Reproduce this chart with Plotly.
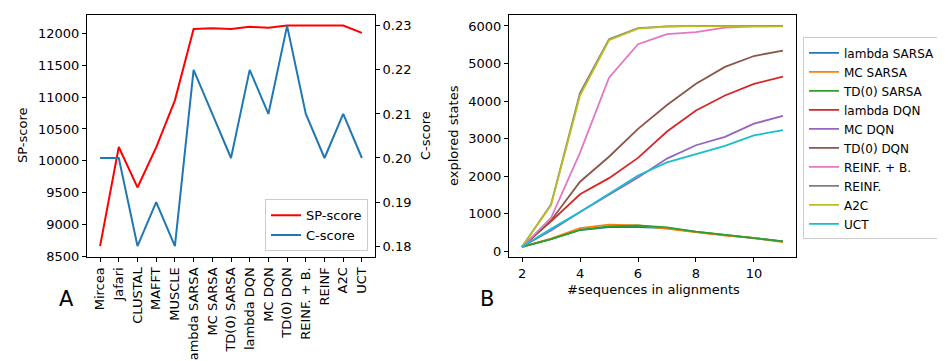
import plotly.graph_objects as go

# ---------------- Panel A data ----------------
methods = ["Mircea", "Jafari", "CLUSTAL", "MAFFT", "MUSCLE", "lambda SARSA", "MC SARSA",
           "TD(0) SARSA", "lambda DQN", "MC DQN", "TD(0) DQN", "REINF. + B.", "REINF", "A2C", "UCT"]
sp_score = [8660, 10216, 9581, 10210, 10950, 12072, 12082, 12072, 12105, 12090, 12125, 12125, 12115, 12125, 12010]
c_score = [0.20, 0.20, 0.18, 0.19, 0.18, 0.22, 0.21, 0.20, 0.22, 0.21, 0.23, 0.21, 0.20, 0.21, 0.20]
sp_ticks = [8500, 9000, 9500, 10000, 10500, 11000, 11500, 12000]
c_ticks = [0.18, 0.19, 0.20, 0.21, 0.22, 0.23]

# ---------------- Panel B data ----------------
n_sequences = [2, 3, 4, 5, 6, 7, 8, 9, 10, 11]
lambda_sarsa = [123, 330, 570, 650, 650, 620, 520, 430, 360, 270]
mc_sarsa = [123, 340, 623, 715, 693, 600, 500, 420, 360, 245]
td0_sarsa = [123, 325, 575, 665, 690, 640, 526, 439, 365, 270]
lambda_dqn = [123, 800, 1520, 1950, 2490, 3190, 3750, 4150, 4460, 4650]
mc_dqn = [123, 560, 1050, 1520, 1970, 2470, 2826, 3050, 3400, 3605]
td0_dqn = [123, 825, 1855, 2520, 3260, 3895, 4460, 4910, 5200, 5345]
reinf_b = [123, 890, 2630, 4625, 5515, 5780, 5838, 5955, 5990, 5995]
reinf = [123, 1250, 4220, 5650, 5940, 5990, 6000, 6000, 6000, 6000]
a2c = [123, 1230, 4150, 5620, 5930, 5985, 5995, 6000, 6000, 5990]
uct = [123, 600, 1050, 1530, 2020, 2370, 2580, 2810, 3090, 3225]
b_xticks = [2, 4, 6, 8, 10]
b_yticks = [0, 1000, 2000, 3000, 4000, 5000, 6000]

series_names = ["lambda SARSA", "MC SARSA", "TD(0) SARSA", "lambda DQN", "MC DQN",
                "TD(0) DQN", "REINF. + B.", "REINF.", "A2C", "UCT"]
series_values = [lambda_sarsa, mc_sarsa, td0_sarsa, lambda_dqn, mc_dqn,
                 td0_dqn, reinf_b, reinf, a2c, uct]
series_colors = ['#1f77b4', '#ff7f0e', '#2ca02c', '#d62728', '#9467bd',
                 '#8c564b', '#e377c2', '#7f7f7f', '#bcbd22', '#17becf']

W, H = 945, 361
FONT = "DejaVu Sans"

def px_x(p):
    return p / W

def px_y(p):
    return 1 - p / H

fig = go.Figure()

fig.add_trace(go.Scatter(x=methods, y=sp_score, mode="lines", name="SP-score",
                         line=dict(color="#ff0000", width=2), xaxis="x", yaxis="y",
                         legend="legend"))
fig.add_trace(go.Scatter(x=methods, y=c_score, mode="lines", name="C-score",
                         line=dict(color="#1f77b4", width=2), xaxis="x", yaxis="y2",
                         legend="legend"))

for name, vals, col in zip(series_names, series_values, series_colors):
    fig.add_trace(go.Scatter(x=n_sequences, y=vals, mode="lines", name=name,
                             line=dict(color=col, width=1.8), xaxis="x3", yaxis="y3",
                             legend="legend2"))

ydom = [px_y(254), px_y(7)]
axis_common = dict(showline=True, linecolor="black", linewidth=1, ticks="outside",
                   ticklen=4, tickcolor="black", showgrid=False, zeroline=False,
                   tickfont=dict(family=FONT, size=13, color="black"))

fig.update_layout(
    width=W, height=H,
    margin=dict(l=0, r=0, t=0, b=0),
    paper_bgcolor="white", plot_bgcolor="white",
    font=dict(family=FONT, size=13, color="black"),
    xaxis=dict(domain=[px_x(79), px_x(367)], anchor="y", type="category",
               range=[-0.7, 14.7], tickangle=-90, mirror=True, **axis_common),
    yaxis=dict(domain=ydom, anchor="x", range=[8487, 12293],
               tickvals=sp_ticks, ticktext=[str(v) for v in sp_ticks],
               mirror=True, **axis_common),
    yaxis2=dict(overlaying="y", anchor="x", side="right", range=[0.1775, 0.2325],
                tickvals=c_ticks, ticktext=["%.2f" % v for v in c_ticks],
                **axis_common),
    xaxis3=dict(domain=[px_x(501), px_x(788)], anchor="y3", range=[1.55, 11.45],
                tickvals=b_xticks, mirror=True, **axis_common),
    yaxis3=dict(domain=ydom, anchor="x3", range=[-150, 6295],
                tickvals=b_yticks, ticktext=[str(v) for v in b_yticks], mirror=True,
                **axis_common),
    legend=dict(x=px_x(360), y=px_y(248), xanchor="right", yanchor="bottom",
                bgcolor="rgba(255,255,255,0.8)", bordercolor="#cccccc", borderwidth=1,
                font=dict(family=FONT, size=13), itemwidth=30, tracegroupgap=0),
    legend2=dict(x=px_x(795), y=px_y(30), xanchor="left", yanchor="top",
                 bgcolor="rgba(255,255,255,0.8)", bordercolor="#cccccc", borderwidth=1,
                 font=dict(family=FONT, size=12), itemwidth=30, tracegroupgap=0),
    showlegend=True,
)

annotations = [
    dict(text="SP-score", x=px_x(15), y=px_y(130.5), textangle=-90),
    dict(text="C-score", x=px_x(418), y=px_y(130.5), textangle=-90),
    dict(text="explored states", x=px_x(446), y=px_y(130.5), textangle=-90),
    dict(text="#sequences in alignments", x=px_x(645), y=px_y(287)),
    dict(text="A", x=px_x(58), y=px_y(297), font=dict(family=FONT, size=21, color="black")),
    dict(text="B", x=px_x(479), y=px_y(297), font=dict(family=FONT, size=21, color="black")),
]
for a in annotations:
    a.setdefault("font", dict(family=FONT, size=13, color="black"))
    fig.add_annotation(xref="paper", yref="paper", showarrow=False,
                       xanchor="center", yanchor="middle", **a)

fig.write_html("out.html")
